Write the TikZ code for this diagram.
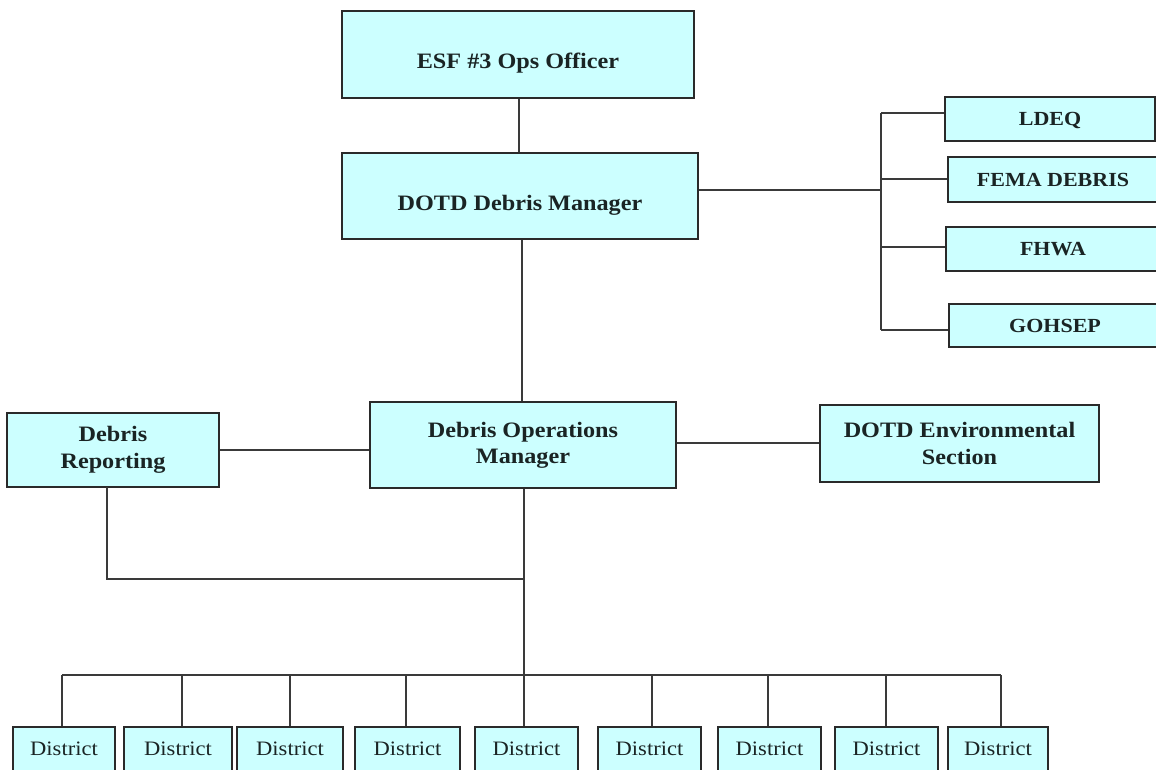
\documentclass[tikz,border=0pt]{standalone}
\usepackage{fontspec}
\setmainfont[FakeStretch=1.1]{Liberation Serif}
\definecolor{boxfill}{HTML}{CCFFFF}
\definecolor{edge}{HTML}{2A2A2A}
\definecolor{wirecol}{HTML}{3A3A3A}
\definecolor{ink}{HTML}{1A2424}
\begin{document}
\begin{tikzpicture}[x=1pt,y=-1pt,
  box/.style={draw=edge, line width=1.4pt, fill=boxfill, inner sep=0pt,
    text=ink, align=center, font=\bfseries\fontsize{22}{27}\selectfont},
  oneline/.style={box, text height=28.6pt, text depth=0pt},
  agency/.style={box, font=\bfseries\fontsize{20}{24}\selectfont,
    text height=13.2pt, text depth=0pt},
  district/.style={box, font=\fontsize{20.5}{24}\selectfont,
    minimum height=44pt, text height=13.6pt, text depth=0pt},
  wire/.style={draw=wirecol, line width=1.4pt}]

% page area
\clip (0,0) rectangle (1156,769);
\fill[white] (0,0) rectangle (1156,769);

% top of the chain
\node[oneline, minimum width=352pt, minimum height=87pt] (esf) at (518,54.5) {ESF \#3 Ops Officer};
\node[oneline, minimum width=356pt, minimum height=86pt] (mgr) at (520,196) {DOTD Debris Manager};

% partner agencies
\node[agency, minimum width=210pt, minimum height=44pt] (ldeq) at (1050,119) {LDEQ};
\node[agency, minimum width=210pt, minimum height=45pt] (fema) at (1053,179.5) {FEMA DEBRIS};
\node[agency, minimum width=214pt, minimum height=44pt] (fhwa) at (1053,249) {FHWA};
\node[agency, minimum width=212pt, minimum height=43pt] (gohsep) at (1055,325.5) {GOHSEP};

% operations level
\node[box, minimum width=212pt, minimum height=74pt] (rep) at (113,450) {Debris\\Reporting};
\node[box, minimum width=306pt, minimum height=86pt] (ops) at (523,445) {Debris Operations\\[-1pt]Manager};
\node[box, minimum width=279pt, minimum height=77pt] (env) at (959.5,443.5) {DOTD Environmental\\Section};

% districts: index / centre x / width / stub x
\foreach \i/\cx/\w/\sx in {1/64/102/62, 2/178/108/182, 3/290/106/290,
    4/407.5/105/406, 5/526.5/103/524, 6/649.5/103/652, 7/769.5/103/768,
    8/886.5/103/886, 9/998/100/1001}{
  \node[district, minimum width=\w pt] (d\i) at (\cx,749) {District};
  \coordinate (t\i) at (\sx,675);
}

% junction points
\coordinate (top) at (519,0);
\coordinate (mid) at (522,0);
\coordinate (rbus) at (881,190);
\coordinate (a1) at (881,113);
\coordinate (a2) at (881,179);
\coordinate (a3) at (881,247);
\coordinate (a4) at (881,330);
\coordinate (side) at (0,443);
\coordinate (rdrop) at (107,487);
\coordinate (join) at (524,579);

% connectors
\draw[wire] (top |- esf.south) -- (top |- mgr.north);
\draw[wire] (mgr.east |- rbus) -- (rbus);
\draw[wire] (a1) -- (a4);
\draw[wire] (a1) -- (a1 -| ldeq.west);
\draw[wire] (a2) -- (a2 -| fema.west);
\draw[wire] (a3) -- (a3 -| fhwa.west);
\draw[wire] (a4) -- (a4 -| gohsep.west);
\draw[wire] (mid |- mgr.south) -- (mid |- ops.north);
\draw[wire] (rep.east) -- (rep.east -| ops.west);
\draw[wire] (side -| ops.east) -- (side -| env.west);
\draw[wire] (rdrop) |- (join);
\draw[wire] (join |- ops.south) -- (t5);
\draw[wire] (t1) -- (t9);
\foreach \i in {1,...,9}{
  \draw[wire] (t\i) -- (t\i |- d\i.north);
}
\end{tikzpicture}
\end{document}
